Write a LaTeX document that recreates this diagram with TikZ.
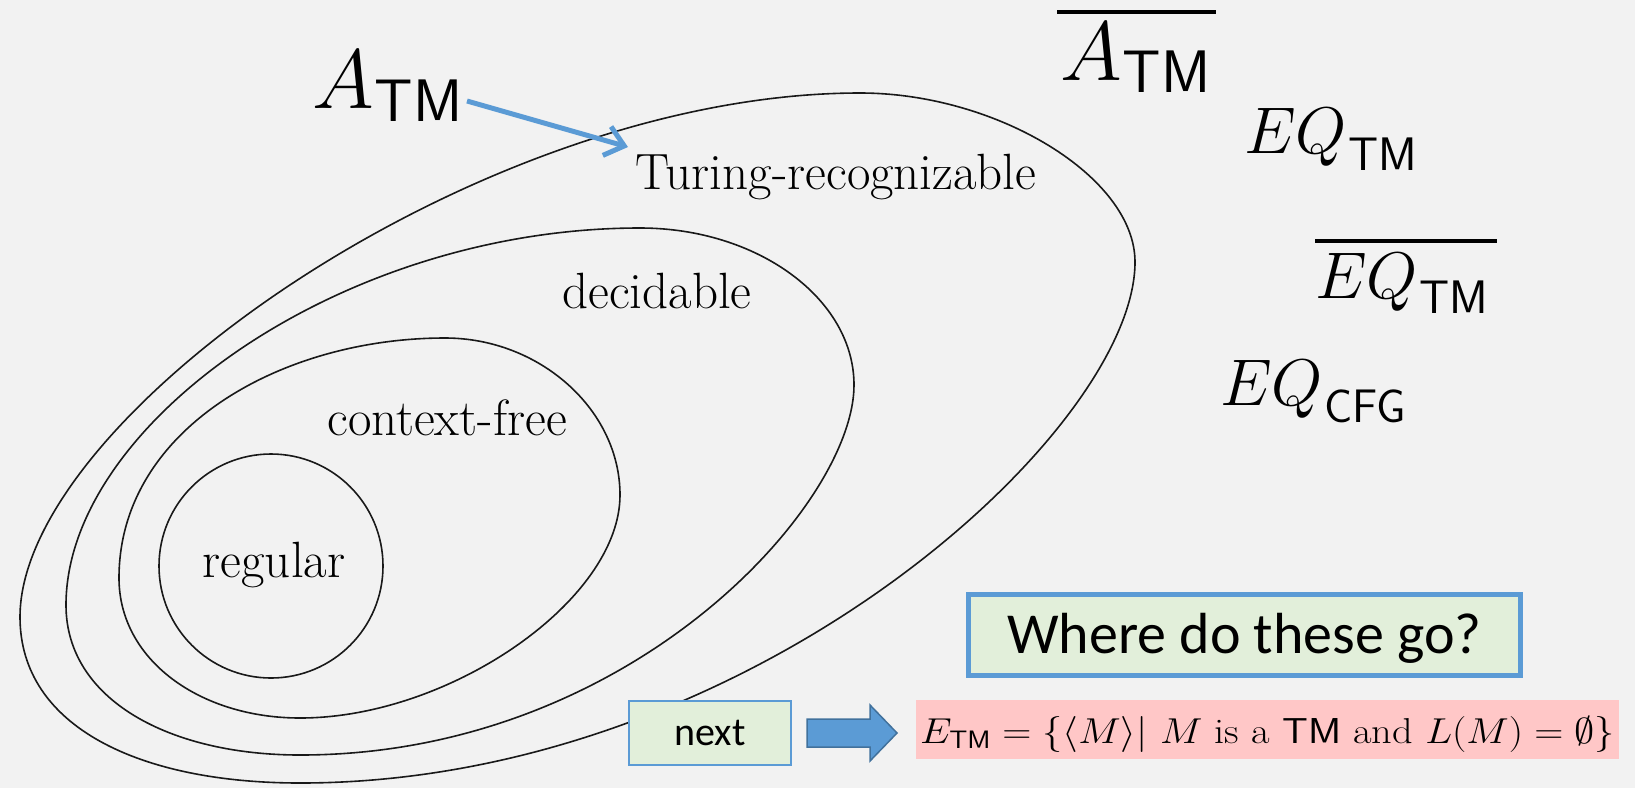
\RequirePackage{fix-cm}
\documentclass[tikz,border=0pt]{standalone}
\usepackage{amsmath}
\usepackage{fontspec}
\newfontfamily\calibri{Carlito}
\usetikzlibrary{arrows.meta}
\definecolor{bgc}{HTML}{F2F2F2}
\definecolor{bluec}{HTML}{5B9BD5}
\definecolor{bluedark}{HTML}{41719C}
\definecolor{greenf}{HTML}{E2EFDA}
\definecolor{pinkf}{HTML}{FFC7C7}
\tikzset{
  setcurve/.style={draw=black!90, line width=1.6pt},
  lbl/.style={anchor=base, inner sep=0pt, font=\fontsize{51}{54}\selectfont},
  lang/.style={anchor=base west, inner sep=0pt},
  bar/.style={line width=4pt},
  greenbox/.style={draw=bluec, fill=greenf, inner sep=0pt, font=\calibri},
  pointer/.style={draw=bluec, line width=5pt, -{Straight Barb[length=18pt,width=30pt]}}
}
\begin{document}
\begin{tikzpicture}[x=1pt,y=-1pt]
\fill[bgc] (0,0) rectangle (1635,788);
\useasboundingbox (0,0) rectangle (1635,788);

% nested sets
\draw[setcurve] (860,93) .. controls (997,93) and (1135,177) .. (1135,262)
  .. controls (1135,432) and (750,783) .. (300,783)
  .. controls (140,783) and (20,727) .. (20,617)
  .. controls (20,417) and (480,93) .. (860,93) -- cycle;
\draw[setcurve] (640,228) .. controls (758,228) and (854,299) .. (854,385)
  .. controls (854,505) and (630,755) .. (300,755)
  .. controls (170,755) and (66,700) .. (66,605)
  .. controls (66,425) and (340,228) .. (640,228) -- cycle;
\draw[setcurve] (445,338) .. controls (540,338) and (620,410) .. (620,495)
  .. controls (620,600) and (450,718) .. (300,718)
  .. controls (200,718) and (119,660) .. (119,578)
  .. controls (119,430) and (280,338) .. (445,338) -- cycle;
\draw[setcurve] (271,566) circle[radius=112pt];

\node[lbl] (tr) at (836,189) {Turing-recognizable};
\node[lbl] (dec) at (657,308) {decidable};
\node[lbl] (cf) at (447,435) {context-free};
\node[lbl] (reg) at (274,577) {regular};

% languages
\node[lang] (atm) at (312,108) {\fontsize{84}{84}\selectfont$A$\kern1pt\raisebox{-13pt}{\fontsize{60}{60}\selectfont\textsf{TM}}};
\node[lang] (atmc) at (1060,80) {\fontsize{84}{84}\selectfont$A$\kern1pt\raisebox{-12pt}{\fontsize{60}{60}\selectfont\textsf{TM}}};
\draw[bar] ([xshift=-3pt,yshift=10pt]atmc.north west) -- ([xshift=5pt,yshift=10pt]atmc.north east);
\node[lang] (eqtm) at (1244,153) {\fontsize{66}{66}\selectfont$EQ$\kern1pt\raisebox{-17pt}{\fontsize{47}{47}\selectfont\textsf{TM}}};
\node[lang] (eqtmc) at (1315,298) {\fontsize{66}{66}\selectfont$EQ$\kern1pt\raisebox{-15pt}{\fontsize{47}{47}\selectfont\textsf{TM}}};
\draw[bar] ([yshift=12pt]eqtmc.north west) -- ([xshift=9pt,yshift=12pt]eqtmc.north east);
\node[lang] (eqcfg) at (1220,405) {\fontsize{66}{66}\selectfont$EQ$\kern1pt\raisebox{-17pt}{\fontsize{47}{47}\selectfont\textsf{CFG}}};

% arrow from A_TM to Turing-recognizable
\coordinate (arrS) at (467,101);
\coordinate (arrE) at (628,147);
\draw[pointer] (arrS) -- (arrE);

% boxes
\node[greenbox, line width=5pt, minimum width=552pt, minimum height=81pt,
      text height=40pt, text depth=4pt, font=\calibri\fontsize{58}{60}\selectfont]
      (where) at (1244.5,635) {Where do these go?};
\node[greenbox, line width=2pt, minimum width=162pt, minimum height=64pt,
      text height=28pt, text depth=4pt, font=\calibri\fontsize{40}{44}\selectfont]
      (next) at (710,733) {next};
\node[fill=pinkf, inner sep=0pt, minimum width=703pt, minimum height=59pt,
      text height=33pt, text depth=6pt] (etm) at (1267.5,729.5)
 {\resizebox{695pt}{\height}{\fontsize{36}{40}\selectfont$E_{\textsf{TM}}=\{\langle M\rangle|\ M\mbox{ is a }\textsf{TM}\mbox{ and }L(M)=\emptyset\}$}};
\draw[fill=bluec, draw=bluedark, line width=1.5pt]
  (807,719) -- (870,719) -- (870,705) -- (897,733) -- (870,761) -- (870,747) -- (807,747) -- cycle;
\end{tikzpicture}
\end{document}
